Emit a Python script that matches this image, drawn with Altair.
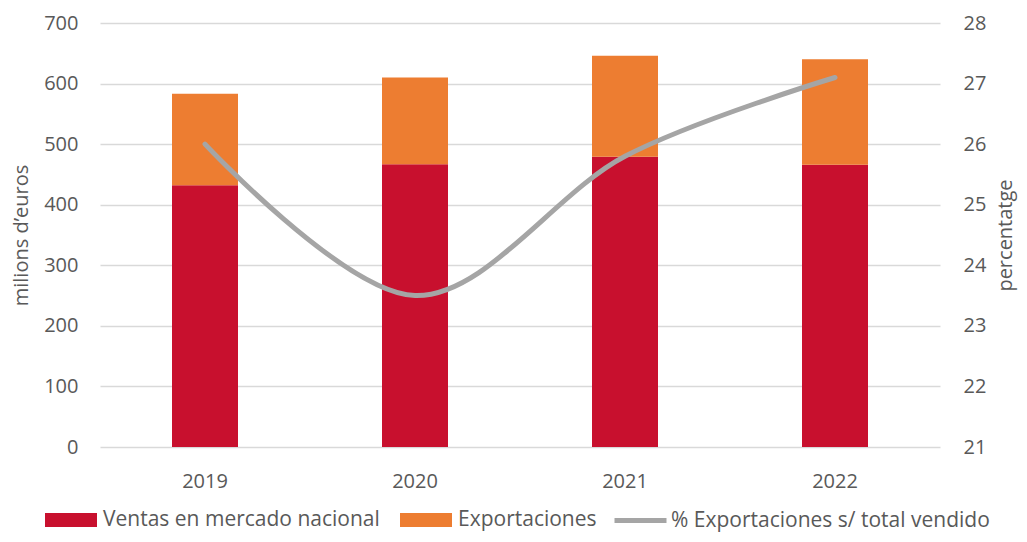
import altair as alt
import pandas as pd

years = ["2019", "2020", "2021", "2022"]
ventas = [432, 467, 479, 466]
exportaciones = [151, 143, 167, 174]
pct_export = [26.0, 23.5, 25.8, 27.1]
series = ["Ventas en mercado nacional", "Exportaciones"]
line_name = "% Exportaciones s/ total vendido"

bars_df = pd.DataFrame({
    "year": years * 2,
    "serie": [series[0]] * len(years) + [series[1]] * len(years),
    "value": ventas + exportaciones,
    "ord": [0] * len(years) + [1] * len(years),
})
line_df = pd.DataFrame({"year": years, "pct": pct_export, "serie": [line_name] * len(years)})

FONT = "Open Sans"
TXT = "#595959"
RED = "#c8102e"
ORANGE = "#ed7d31"
LGRAY = "#a5a5a5"
GRID = "#d9d9d9"

x = alt.X(
    "year:N",
    scale=alt.Scale(paddingInner=0, paddingOuter=0),
    axis=alt.Axis(title=None, labelAngle=0, ticks=False, domain=False, labelPadding=24,
                  labelFontSize=20, labelColor=TXT, labelFont=FONT, grid=False),
)

bars = alt.Chart(bars_df).mark_bar(size=66).encode(
    x=x,
    y=alt.Y(
        "value:Q", stack="zero",
        scale=alt.Scale(domain=[0, 700], nice=False),
        axis=alt.Axis(values=list(range(0, 701, 100)), title="milions d’euros", ticks=False,
                      domain=False, grid=True, gridColor=GRID, gridWidth=1.5, labelPadding=22,
                      labelFontSize=20, labelColor=TXT, labelFont=FONT,
                      titleFontSize=20, titleColor=TXT, titleFont=FONT, titleFontWeight="normal",
                      titlePadding=12),
    ),
    color=alt.Color(
        "serie:N",
        scale=alt.Scale(domain=series, range=[RED, ORANGE]),
        legend=alt.Legend(title=None, orient="none", direction="horizontal", legendX=-55, legendY=471,
                          symbolType="M-1,-0.27H1V0.27H-1Z", symbolSize=2704, symbolStrokeWidth=0,
                          labelFontSize=21, labelColor=TXT, labelFont=FONT, labelOffset=6,
                          labelLimit=500, columnPadding=20),
    ),
    order=alt.Order("ord:Q"),
)

line = alt.Chart(line_df).mark_line(interpolate="cardinal", strokeWidth=5, strokeCap="round").encode(
    x=x,
    y=alt.Y(
        "pct:Q",
        scale=alt.Scale(domain=[21, 28], nice=False, zero=False),
        axis=alt.Axis(orient="right", values=list(range(21, 29)), title="percentatge", ticks=False,
                      domain=False, grid=False, labelPadding=23,
                      labelFontSize=20, labelColor=TXT, labelFont=FONT,
                      titleFontSize=20, titleColor=TXT, titleFont=FONT, titleFontWeight="normal",
                      titleAngle=270, titleBaseline="top", titlePadding=10),
    ),
    stroke=alt.Stroke(
        "serie:N",
        scale=alt.Scale(domain=[line_name], range=[LGRAY]),
        legend=alt.Legend(title=None, orient="none", direction="horizontal", legendX=512, legendY=469,
                          symbolType="stroke", symbolSize=2704, symbolStrokeWidth=5,
                          labelFontSize=21, labelColor=TXT, labelFont=FONT, labelOffset=2,
                          labelLimit=500),
    ),
)

chart = alt.layer(bars, line).resolve_scale(
    y="independent", color="independent", stroke="independent"
).properties(
    width=840, height=424,
    autosize=alt.AutoSizeParams(type="none"),
    padding={"left": 92, "top": 15, "right": 79, "bottom": 86},
).configure_view(stroke=None)

chart.save("out.html", embed_options={"renderer": "svg", "actions": False})
